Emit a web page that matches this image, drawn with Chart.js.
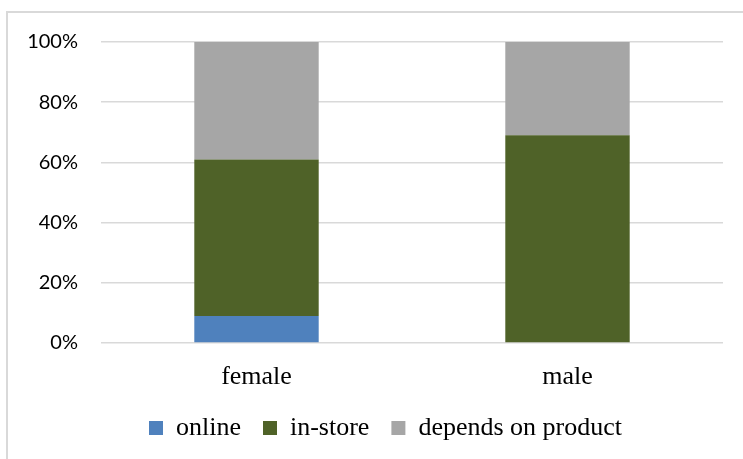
<!DOCTYPE html>
<html>
<head>
<meta charset="utf-8">
<script src="https://cdn.jsdelivr.net/npm/chart.js@4"></script>
<style>
  html, body { margin: 0; padding: 0; background: #fff; }
  #frame {
    position: absolute; left: 6px; top: 11px; width: 800px; height: 500px;
    border: 2px solid #d9d9d9;
  }
  #wrap { position: absolute; left: 0; top: 0; width: 743px; height: 459px; }
</style>
</head>
<body>
<div id="frame"></div>
<div id="wrap"><canvas id="shopChart" width="743" height="459"></canvas></div>
<script>
    const categories = ['female', 'male'];
    const online = [9, 0];
    const inStore = [52, 69];
    const dependsOnProduct = [39, 31];
    const yTicks = [0, 20, 40, 60, 80, 100];

    const serif = '"Liberation Serif", "Times New Roman", serif';

    // legend in the original sits a bit right of the canvas centre
    const legendShift = {
        id: 'legendShift',
        afterLayout(chart) {
            if (chart.legend) chart.legend.left += 48;
        }
    };

    const ctx = document.getElementById('shopChart').getContext('2d');
    const shopChart = new Chart(ctx, {
        type: 'bar',
        data: {
            labels: categories,
            datasets: [
                { label: 'online', data: online, backgroundColor: '#4F81BD' },
                { label: 'in-store', data: inStore, backgroundColor: '#4F6228' },
                { label: 'depends on product', data: dependsOnProduct, backgroundColor: '#A6A6A6' }
            ]
        },
        options: {
            responsive: false,
            animation: false,
            layout: { padding: { left: 0, right: 20, top: 42, bottom: 8 } },
            datasets: { bar: { categoryPercentage: 1, barPercentage: 0.4, borderWidth: 0 } },
            scales: {
                x: {
                    stacked: true,
                    grid: { display: false, drawTicks: false },
                    border: { display: false },
                    ticks: { color: '#000', padding: 19, font: { family: serif, size: 26 } },
                    afterFit: function(scale) { scale.height = 50; }
                },
                y: {
                    stacked: true,
                    min: 0,
                    max: 100,
                    afterBuildTicks: function(scale) {
                        scale.ticks = yTicks.map(v => ({ value: v }));
                    },
                    grid: { color: '#d9d9d9', lineWidth: 1.5, drawTicks: false },
                    border: { display: false },
                    ticks: {
                        color: '#000',
                        padding: 23,
                        font: { family: 'Lato, sans-serif', size: 20 },
                        callback: function(v) { return v + '%'; }
                    },
                    afterFit: function(scale) { scale.width = 101; }
                }
            },
            plugins: {
                legend: {
                    position: 'bottom',
                    labels: {
                        color: '#000',
                        boxWidth: 14,
                        boxHeight: 14,
                        padding: 22,
                        font: { family: serif, size: 26 }
                    }
                },
                tooltip: { enabled: false }
            }
        },
        plugins: [legendShift]
    });
</script>
</body>
</html>
